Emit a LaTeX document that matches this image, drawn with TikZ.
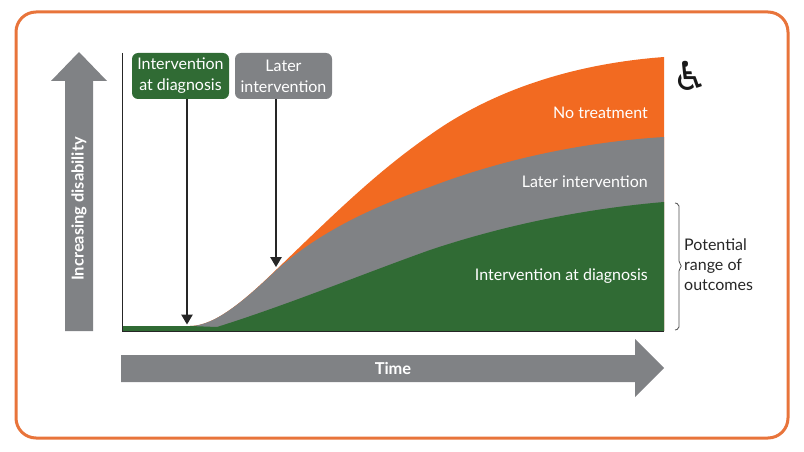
\documentclass[tikz,border=0pt]{standalone}
\usepackage{fontspec}
\setmainfont{Lato}
\newfontfamily\symbolfont{DejaVu Sans}
\usetikzlibrary{positioning}
\usetikzlibrary{arrows.meta}
\definecolor{frameorange}{HTML}{E8743B}
\definecolor{curveorange}{HTML}{F26A21}
\definecolor{curvegrey}{HTML}{808285}
\definecolor{curvegreen}{HTML}{306B34}
\definecolor{arrowgrey}{HTML}{808285}
\tikzset{
	labelbox/.style={rounded corners=6pt,text=white,font=\fontsize{16}{21}\selectfont,align=center,inner sep=0pt,minimum width=97pt,minimum height=46pt},
	curvelabel/.style={text=white,font=\fontsize{16}{18}\selectfont,anchor=east,inner sep=0pt},
	arrowlabel/.style={text=white,font=\fontsize{16.4}{18}\selectfont\bfseries},
	pointer/.style={draw=black!85,line width=1.3pt,-{Triangle[length=10pt,width=11.5pt]}}
}
\begin{document}
\begin{tikzpicture}[x=1pt,y=-1pt]
\useasboundingbox (0,0) rectangle (804,452);
\draw[frameorange,line width=3pt,rounded corners=20pt] (16,12) rectangle (788,438);

	% the three areas
	\fill[curveorange] (190,331) -- (190,326) .. controls (215,326) and (245,300) .. (277,269)
		.. controls (330,218) and (375,173) .. (430,135)
		.. controls (490,92) and (570,64) .. (664,57) -- (664,331) -- cycle;
	\fill[curvegrey] (190,331) -- (190,326) .. controls (215,326) and (245,300) .. (277,269.5)
		.. controls (320,232) and (370,208) .. (430,187)
		.. controls (490,164) and (570,143) .. (664,137) -- (664,331) -- cycle;
	\fill[curvegreen] (122,331) -- (122,326) -- (190,326) -- (217,327)
		.. controls (290,304) and (360,275) .. (430,250)
		.. controls (490,230) and (570,210) .. (664,202) -- (664,331) -- cycle;

	% axis
	\coordinate (axistop) at (122,53);
	\coordinate (axiscorner) at (122,331);
	\coordinate (axisend) at (664,331);
	\draw[black!85,line width=1pt] (axistop) -- (axiscorner) -- (axisend);

	% big arrows
	\fill[arrowgrey] (65,331) -- (65,81) -- (51,81) -- (79,52) -- (107,81) -- (93,81) -- (93,331) -- cycle;
	\fill[arrowgrey] (121,355) -- (635,355) -- (635,339) -- (664,368) -- (635,397) -- (635,382) -- (121,382) -- cycle;
	\node[arrowlabel,rotate=90] (disability) at (79,209) {Increasing disability};
	\node[arrowlabel] (time) at (393,368) {Time};

	% boxes and pointers
	\node[labelbox,fill=curvegreen] (diagnosis) at (180.5,76) {Intervention\\at diagnosis};
	\node[labelbox,fill=curvegrey] (later) at (283.5,76) {Later\\intervention};
	\coordinate (diagnosistip) at (187,324.5);
	\coordinate (latertip) at (276,267);
	\draw[pointer] (diagnosis.south -| diagnosistip) -- (diagnosistip);
	\draw[pointer] (later.south -| latertip) -- (latertip);

	% labels on the areas
	\node[curvelabel] (notreatment) at (648,113) {No treatment};
	\node[curvelabel] (laterlabel) at (648,182) {Later intervention};
	\node[curvelabel] (diagnosislabel) at (648,276) {Intervention at diagnosis};

	% wheelchair
	\node[font=\symbolfont\fontsize{40}{40}\selectfont,text=black!90] (wheelchair) at (690,76) {^^^^267f};

	% brace
	\draw[black!70,line width=0.8pt,rounded corners=2pt] (675,203) -- (679,204) -- (679,263) -- (682,266) -- (679,269) -- (679,329) -- (675,330);
	\node[align=left,text=black!85,font=\fontsize{16}{20}\selectfont,anchor=west,inner sep=0pt] (range) at (684,265) {Potential\\range of\\outcomes};
\end{tikzpicture}
\end{document}
